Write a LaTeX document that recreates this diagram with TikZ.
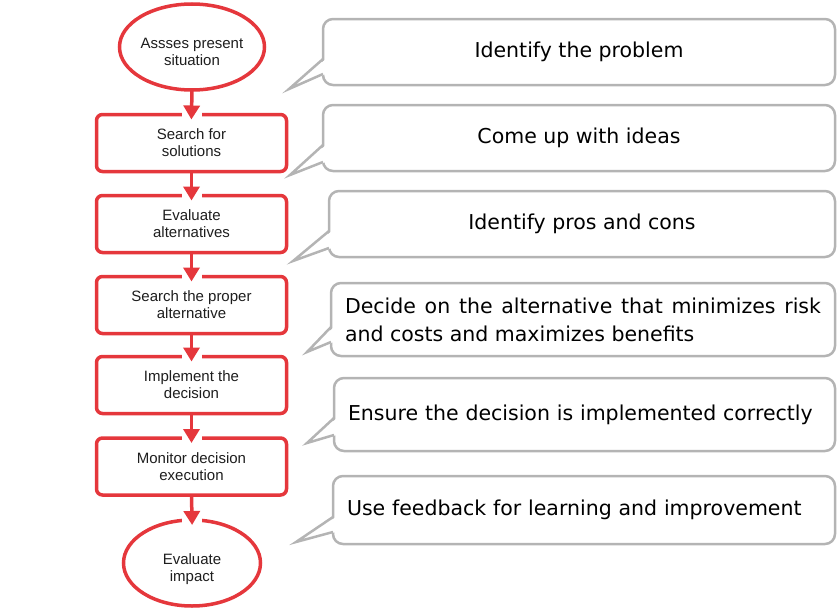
\documentclass[tikz,border=0pt]{standalone}
\usepackage{fontspec}
\setmainfont{Liberation Sans}
\newfontfamily\calloutfont{DejaVu Sans}
\usetikzlibrary{shapes.geometric,arrows.meta,calc}
\definecolor{fred}{HTML}{E5373C}
\definecolor{cgray}{HTML}{B4B4B4}
\definecolor{ftext}{HTML}{1E1E1E}
\newcommand{\elltext}[2]{\raisebox{-7pt}[\height][\depth]{\begin{tabular}{@{}c@{}}#1\\#2\end{tabular}}}
\begin{document}
\begin{tikzpicture}[x=1pt,y=-1pt,
  flowbox/.style={draw=fred, line width=3.5pt, rounded corners=6pt, minimum width=190pt, minimum height=57pt, inner sep=0pt, outer sep=0pt, fill=white, align=center, font=\fontsize{15}{17}\selectfont, text=ftext},
  flowell/.style={ellipse, draw=fred, line width=3.5pt, minimum width=137pt, minimum height=86pt, inner sep=0pt, outer sep=0pt, fill=white, font=\fontsize{15}{17}\selectfont, text=ftext},
  callout/.style={draw=cgray, line width=2.5pt, rounded corners=10pt, fill=white, anchor=north west, inner ysep=0pt, inner xsep=14pt, outer sep=0pt, font=\calloutfont\fontsize{20.5}{28}\selectfont, text=black},
  flowarrow/.style={draw=fred, line width=3.5pt, -{Triangle[width=16pt,length=14pt]}, shorten >=-5pt},
  gapline/.style={draw=white, line width=6pt},
  pointer/.style={draw=cgray, line width=2.5pt, line join=miter},
  pointerfill/.style={fill=white}
]
\useasboundingbox (0,0) rectangle (838,613);

% flowchart nodes
\node[flowell] (e1) at (192,47) {\elltext{Assses present}{situation}};
\node[flowbox] (b1) at (191.5,143) {Search for\\solutions};
\node[flowbox] (b2) at (191.5,224) {Evaluate\\alternatives};
\node[flowbox] (b3) at (191.5,305) {Search the proper\\alternative};
\node[flowbox] (b4) at (191.5,385) {Implement the\\decision};
\node[flowbox] (b5) at (191.5,466.5) {Monitor decision\\execution};
\node[flowell] (e2) at (192,563) {\elltext{Evaluate}{impact}};

% arrows
\foreach \a/\b in {e1/b1,b1/b2,b2/b3,b3/b4,b4/b5,b5/e2}{
  \draw[gapline] ([xshift=-10pt]\b.north) -- ([xshift=10pt]\b.north);
  \draw[flowarrow] (\a.south) -- (\b.north);
}

% callouts
\node[callout, minimum width=512pt, minimum height=66pt] (c1) at (323,19) {Identify the problem};
\node[callout, minimum width=512pt, minimum height=66pt] (c2) at (323,105) {Come up with ideas};
\node[callout, minimum width=506pt, minimum height=66pt] (c3) at (329,191) {Identify pros and cons};
\node[callout, minimum width=504pt, minimum height=73pt, text width=476pt, align=justify] (c4) at (331,283) {Decide on the alternative that minimizes risk\linebreak and costs and maximizes benefits};
\node[callout, minimum width=501pt, minimum height=73pt, text width=473pt, align=left] (c5) at (334,378) {Ensure the decision is implemented correctly};
\node[callout, minimum width=502pt, minimum height=68pt, text width=474pt, align=left] (c6) at (333,476) {Use feedback for learning and improvement};

% pointer tips
\coordinate (t1) at (289,89);
\coordinate (t2) at (290,175);
\coordinate (t3) at (293,261);
\coordinate (t4) at (307,352);
\coordinate (t5) at (307,443);
\coordinate (t6) at (296,542);

\foreach \c/\t/\da/\db in {c1/t1/40/55, c2/t2/40/57, c3/t3/40/57, c4/t4/44/59, c5/t5/40/57, c6/t6/41/56}{
  \fill[pointerfill] ($(\c.north west)+(3,\da)$) -- (\t) -- ($(\c.north west)+(3,\db)$) -- cycle;
  \draw[pointer] ($(\c.north west)+(0,\da)$) -- (\t) -- ($(\c.north west)+(0,\db)$);
}
\end{tikzpicture}
\end{document}
